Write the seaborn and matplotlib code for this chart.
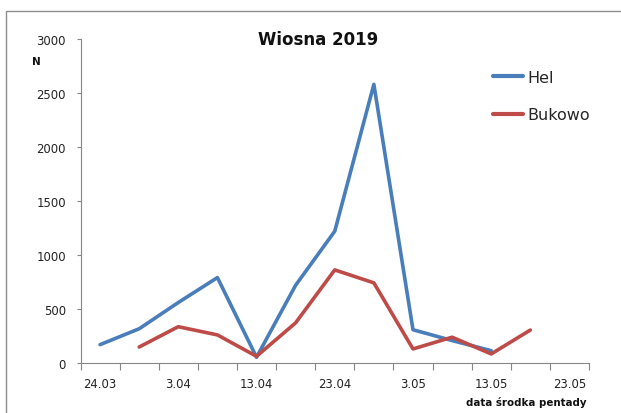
import matplotlib
matplotlib.use("Agg")
import matplotlib.pyplot as plt
import seaborn as sns
import pandas as pd
import numpy as np
from matplotlib.patches import Rectangle

# pentad middle dates (category axis)
dates = ["24.03", "29.03", "3.04", "8.04", "13.04", "18.04", "23.04",
         "28.04", "3.05", "8.05", "13.05", "18.05", "23.05"]
hel = [170, 317, 560, 791, 53, 720, 1220, 2580, 308, 208, 114, None, None]
bukowo = [None, 148, 336, 260, 62, 372, 862, 742, 130, 239, 84, 305, None]

rows = []
for i, d in enumerate(dates):
    if hel[i] is not None:
        rows.append({"pos": i, "N": hel[i], "site": "Hel"})
for i, d in enumerate(dates):
    if bukowo[i] is not None:
        rows.append({"pos": i, "N": bukowo[i], "site": "Bukowo"})
df = pd.DataFrame(rows)

sns.set_theme(style="white")
plt.rcParams["font.family"] = ["DejaVu Sans"]

colors = {"Hel": "#4a7ebb", "Bukowo": "#be4b48"}

W, H = 621, 414
fig = plt.figure(figsize=(W / 100, H / 100), dpi=100)
ax = fig.add_axes([80.5 / W, 50 / H, 508.5 / W, 324 / H])

sns.lineplot(data=df, x="pos", y="N", hue="site", palette=colors,
             linewidth=2.6, ax=ax, legend=True)

ax.set_xlim(-0.5, len(dates) - 0.5)
ax.set_ylim(0, 3000)
ax.set_yticks(range(0, 3001, 500))
ax.tick_params(axis="y", labelsize=8.4, colors="#868686", labelcolor="#222222",
               length=3, width=0.8, direction="out", left=True, pad=7.5)

# tick marks between categories, labels on every second category
ax.set_xticks(np.arange(-0.5, len(dates), 1.0), minor=True)
ax.set_xticks(range(0, len(dates), 2))
ax.set_xticklabels(dates[::2])
ax.tick_params(axis="x", which="minor", length=5, width=0.8, colors="#868686",
               direction="out", bottom=True)
ax.tick_params(axis="x", which="major", length=0, labelsize=8.4,
               labelcolor="#222222", pad=10)

for s in ["top", "right"]:
    ax.spines[s].set_visible(False)
for s in ["left", "bottom"]:
    ax.spines[s].set_color("#868686")
    ax.spines[s].set_linewidth(0.8)

ax.set_xlabel("")
ax.set_ylabel("")
ax.grid(False)

fig.text(318 / W, 1 - 40 / H, "Wiosna 2019", ha="center", va="center",
         fontsize=12, fontweight="bold", color="#111111")
fig.text(36 / W, 1 - 62 / H, "N", ha="center", va="center",
         fontsize=7.5, fontweight="bold", color="#111111")
fig.text(586 / W, 1 - 403 / H, "data środka pentady", ha="right",
         va="center", fontsize=7.4, fontweight="bold", color="#111111")

leg = ax.legend(loc="upper left", bbox_to_anchor=(493 / W, 1 - 71 / H),
                bbox_transform=fig.transFigure, frameon=False, fontsize=11.5,
                handlelength=1.9, handletextpad=0.25, labelspacing=1.4,
                borderaxespad=0, borderpad=0)
for line in leg.get_lines():
    line.set_linewidth(3)

# outer chart frame
fig.add_artist(Rectangle((6 / W, -0.1), 1.2, 1.1 - 12 / H,
                         transform=fig.transFigure, fill=False,
                         edgecolor="#8c8c8c", linewidth=1.0))

fig.savefig("out.png", dpi=100)
